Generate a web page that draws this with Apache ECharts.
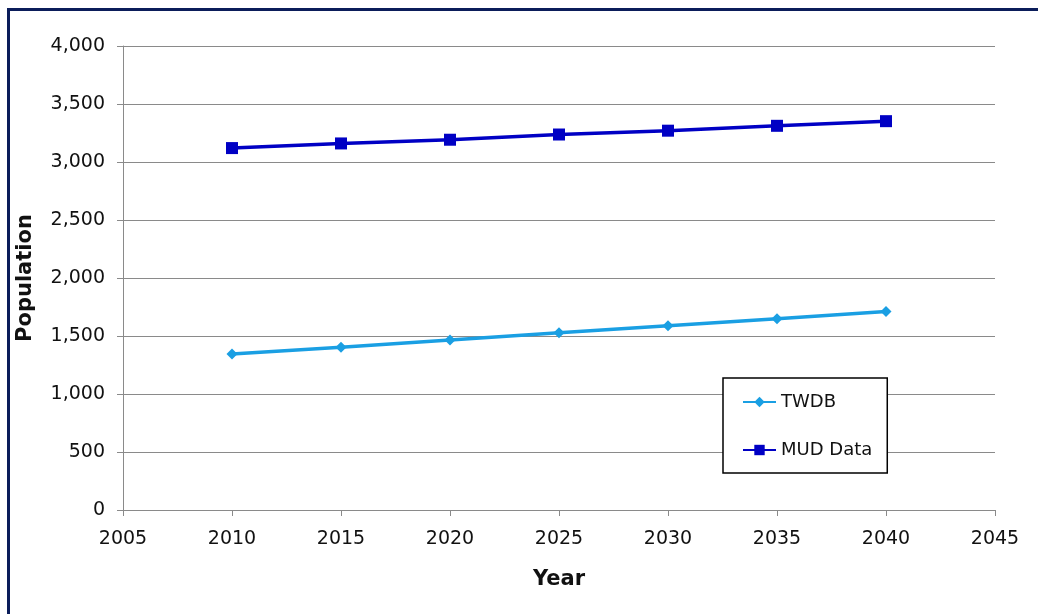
<!DOCTYPE html>
<html>
<head>
<meta charset="utf-8">
<script src="https://cdn.jsdelivr.net/npm/echarts@6/dist/echarts.min.js"></script>
<style>
  html, body { margin: 0; padding: 0; background: #fff; }
  #chart { width: 1038px; height: 614px; }
</style>
</head>
<body>
<div id="chart"></div>
<script>
// values
const years = [2010, 2015, 2020, 2025, 2030, 2035, 2040];
const twdb = [1345, 1403, 1466, 1528, 1589, 1649, 1712];
const mudData = [3120, 3160, 3192, 3237, 3270, 3312, 3352];

const axisGray = '#8a8a8a';
const labelFont = { color: '#111', fontSize: 19, fontFamily: 'DejaVu Sans' };

function pairs (xs, ys) {
  return xs.map((x, i) => [x, ys[i]]);
}

const chart = echarts.init(document.getElementById('chart'), null, { renderer: 'canvas' });

const option = {
  backgroundColor: '#fff',
  animation: false,
  graphic: [
    {
      type: 'rect',
      shape: { x: 8.5, y: 9.5, width: 1100, height: 700 },
      style: { fill: 'none', stroke: '#0b1d5a', lineWidth: 3 },
      silent: true
    }
  ],
  grid: { left: 123, right: 43, top: 46, bottom: 104, outerBoundsMode: 'none', containLabel: false },
  legend: {
    orient: 'vertical',
    left: 723,
    top: 378,
    padding: [15, 15, 14, 19],
    itemWidth: 33,
    itemHeight: 13,
    itemGap: 30,
    borderColor: '#000',
    borderWidth: 1.5,
    backgroundColor: '#fff',
    textStyle: { color: '#111', fontSize: 18, fontFamily: 'DejaVu Sans' },
    data: ['TWDB', 'MUD Data']
  },
  xAxis: {
    type: 'value',
    min: 2005,
    max: 2045,
    interval: 5,
    name: 'Year',
    nameLocation: 'middle',
    nameGap: 59,
    nameTextStyle: { color: '#111', fontSize: 21, fontWeight: 'bold', fontFamily: 'DejaVu Sans' },
    axisLine: { show: true, lineStyle: { color: axisGray, width: 1 } },
    axisTick: { show: true, length: 6, lineStyle: { color: axisGray } },
    axisLabel: Object.assign({ margin: 20, formatter: v => String(v) }, labelFont),
    splitLine: { show: false }
  },
  yAxis: {
    type: 'value',
    min: 0,
    max: 4000,
    interval: 500,
    name: 'Population',
    nameLocation: 'middle',
    nameGap: 87,
    nameRotate: 90,
    nameTextStyle: { color: '#111', fontSize: 21, fontWeight: 'bold', fontFamily: 'DejaVu Sans' },
    axisLine: { show: true, lineStyle: { color: axisGray, width: 1 } },
    axisTick: { show: true, length: 6, lineStyle: { color: axisGray } },
    axisLabel: Object.assign({
      margin: 18,
      formatter: v => v.toLocaleString('en-US')
    }, labelFont),
    splitLine: { show: true, lineStyle: { color: axisGray, width: 1 } }
  },
  series: [
    {
      name: 'TWDB',
      type: 'line',
      data: pairs(years, twdb),
      symbol: 'diamond',
      symbolSize: 11,
      lineStyle: { color: '#1a9fe3', width: 3.5 },
      itemStyle: { color: '#1a9fe3' }
    },
    {
      name: 'MUD Data',
      type: 'line',
      data: pairs(years, mudData),
      symbol: 'rect',
      symbolSize: 12,
      lineStyle: { color: '#0000c4', width: 3.5 },
      itemStyle: { color: '#0000c4' }
    }
  ]
};

chart.setOption(option);
</script>
</body>
</html>
